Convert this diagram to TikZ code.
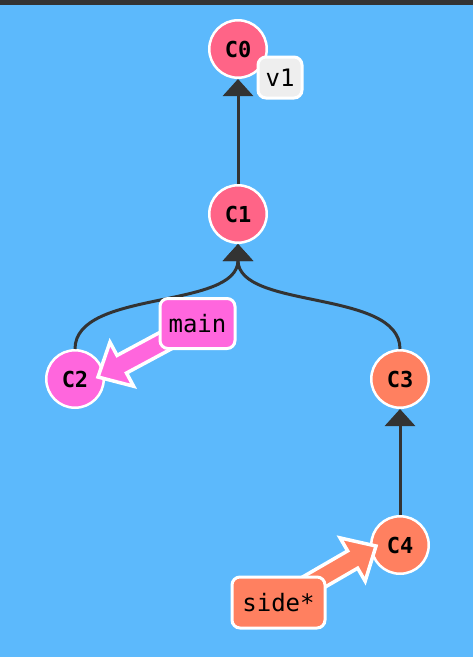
\documentclass[tikz,border=0pt]{standalone}
\usepackage{fontspec}
\setmonofont{DejaVu Sans Mono}
\usetikzlibrary{calc,arrows.meta}
\definecolor{bg}{HTML}{5CB9FC}
\definecolor{topbar}{HTML}{333333}
\definecolor{cred}{HTML}{FF6487}
\definecolor{cmag}{HTML}{FF66DD}
\definecolor{corange}{HTML}{FF8060}
\definecolor{edgecol}{HTML}{333333}
\definecolor{tagfill}{HTML}{EEEEEE}
\newcommand\fatarrow[3]{%
  \path ($(#2)!27pt!(#1)$) coordinate (hb);
  \filldraw[draw=white, line width=3.5pt, fill=#3, line join=miter]
    ($(#1)!10pt!90:(#2)$) -- ($(hb)!10pt!90:(#2)$) -- ($(hb)!25pt!90:(#2)$) -- (#2)
    -- ($(hb)!25pt!-90:(#2)$) -- ($(hb)!10pt!-90:(#2)$) -- ($(#1)!10pt!-90:(#2)$) -- cycle;
}
\tikzset{
  commit/.style={circle, draw=white, line width=2.5pt, minimum size=57.5pt, inner sep=0pt,
    font=\fontsize{22}{22}\selectfont\ttfamily\bfseries, text=black},
  edge/.style={draw=edgecol, line width=3pt, -{Triangle[width=30pt,length=17pt]}},
  reflabel/.style={rounded corners=8pt, draw=white, line width=3pt, inner sep=0pt,
    font=\fontsize{24}{24}\selectfont\ttfamily, text=black, anchor=center}
}
\begin{document}
\begin{tikzpicture}[x=1pt,y=-1pt]
\useasboundingbox (0,0) rectangle (473,657);
\fill[bg] (0,0) rectangle (473,657);
\fill[topbar] (0,0) rectangle (473,5);
% commits
\node[commit, fill=cred] (C0) at (238,49) {C0};
\node[commit, fill=cred] (C1) at (238,214) {C1};
\node[commit, fill=cmag] (C2) at (75,379) {C2};
\node[commit, fill=corange] (C3) at (400,379) {C3};
\node[commit, fill=corange] (C4) at (400,545) {C4};
% edges
\draw[edge] (C1) -- (C0);
\draw[edge] (C4) -- (C3);
\draw[edge] (C2.north) .. controls ($(C2.north)+(0,-60)$) and ($(C1.south)+(0,66)$) .. (C1.south);
\draw[edge] (C3.north) .. controls ($(C3.north)+(0,-60)$) and ($(C1.south)+(0,66)$) .. (C1.south);
% label positions
\coordinate (mainpos) at (197.5,323.5);
\coordinate (sidepos) at (278.5,602.5);
\coordinate (t2) at (98,377);
\coordinate (t4) at (376,546);
% branch arrows
\fatarrow{mainpos}{t2}{cmag}
\fatarrow{sidepos}{t4}{corange}
% labels
\node[reflabel, fill=tagfill, minimum width=44pt, minimum height=41pt] (v1) at (280,77.5) {v1};
\node[reflabel, fill=cmag, minimum width=75pt, minimum height=50pt] (main) at (mainpos) {main};
\node[reflabel, fill=corange, minimum width=93pt, minimum height=51pt] (side) at (sidepos) {side*};
\end{tikzpicture}
\end{document}
